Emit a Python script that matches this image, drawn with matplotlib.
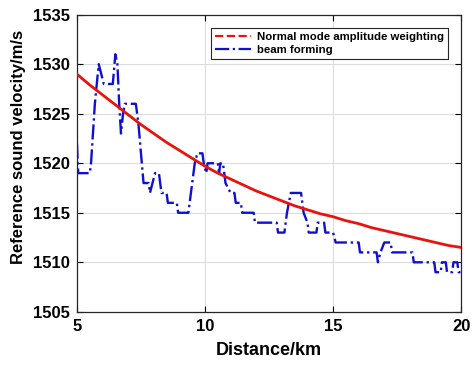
import matplotlib
matplotlib.use("Agg")
import matplotlib.pyplot as plt
from matplotlib.lines import Line2D

# -----------------------------------
# Data
# -----------------------------------
model_km = [5, 5.5, 6, 6.5, 7, 7.5, 8, 8.5, 9, 9.5, 10, 10.5, 11, 11.5, 12,
            12.5, 13, 13.5, 14, 14.5, 15, 15.5, 16, 16.5, 17, 17.5, 18, 18.5,
            19, 19.5, 20]
model_vel = [1529.0, 1527.9, 1526.9, 1525.9, 1524.9, 1523.9, 1523.0, 1522.1,
             1521.3, 1520.5, 1519.7, 1519.0, 1518.4, 1517.8, 1517.2, 1516.7,
             1516.2, 1515.7, 1515.3, 1514.9, 1514.6, 1514.2, 1513.9, 1513.5,
             1513.2, 1512.9, 1512.6, 1512.3, 1512.0, 1511.7, 1511.5]

beam_km = [5.0, 5.05, 5.5, 5.55, 5.7, 5.85, 5.95, 6.05, 6.4, 6.5, 6.58, 6.65,
           6.72, 6.8, 6.87, 7.3, 7.4, 7.5, 7.6, 7.8, 7.85, 7.95, 8.05, 8.2,
           8.3, 8.5, 8.55, 8.9, 8.95, 9.35, 9.45, 9.6, 9.7, 9.9, 9.95, 10.05,
           10.1, 10.5, 10.55, 10.6, 10.7, 10.8, 11.0, 11.15, 11.2, 11.4, 11.45,
           11.9, 11.95, 12.8, 12.85, 13.1, 13.2, 13.35, 13.75, 13.85, 14.0,
           14.05, 14.35, 14.4, 14.65, 14.7, 15.0, 15.1, 16.0, 16.05, 16.7,
           16.75, 16.85, 17.0, 17.25, 17.3, 18.1, 18.15, 18.95, 19.0, 19.2,
           19.25, 19.4, 19.45, 19.65, 19.7, 19.85, 19.9, 20.0]
beam_vel = [1522, 1519, 1519, 1520, 1526, 1530, 1529, 1528, 1528, 1531, 1530,
            1526, 1523, 1525, 1526, 1526, 1524, 1521, 1518, 1518, 1517, 1518,
            1519, 1519, 1517, 1517, 1516, 1516, 1515, 1515, 1517, 1520, 1521,
            1521, 1520, 1519, 1520, 1520, 1519, 1520, 1520, 1518, 1517, 1517,
            1516, 1516, 1515, 1515, 1514, 1514, 1513, 1513, 1515, 1517, 1517,
            1515, 1514, 1513, 1513, 1514, 1514, 1513, 1513, 1512, 1512, 1511,
            1511, 1510, 1511, 1512, 1512, 1511, 1511, 1510, 1510, 1509, 1509,
            1510, 1510, 1509, 1509, 1510, 1510, 1509, 1509]

x_ticks = [5, 10, 15, 20]
y_ticks = [1505, 1510, 1515, 1520, 1525, 1530, 1535]

plt.rcParams["font.family"] = ["Liberation Sans", "DejaVu Sans"]
plt.rcParams["font.weight"] = "bold"

# -----------------------------------
# Plot
# -----------------------------------
fig = plt.figure(figsize=(4.72, 3.66), dpi=100)
ax = fig.add_axes([0.163, 0.148, 0.814, 0.812])

ax.plot(model_km, model_vel, color="#e8140c", linewidth=2.0, zorder=3)
ax.plot(beam_km, beam_vel, color="#1010d0", linestyle="-.", linewidth=1.7,
        zorder=2)

ax.set_xlim(5, 20)
ax.set_ylim(1505, 1535)
ax.set_xticks(x_ticks)
ax.set_yticks(y_ticks)
ax.tick_params(direction="in", labelsize=12, top=True, right=True,
               length=4, width=0.8, pad=5)
for lab in ax.get_xticklabels() + ax.get_yticklabels():
    lab.set_fontweight("bold")
ax.grid(True, color="#dcdcdc", linewidth=0.8)
ax.set_axisbelow(True)
for s in ax.spines.values():
    s.set_color("#262626")
    s.set_linewidth(0.9)

ax.set_xlabel("Distance/km", fontsize=13, fontweight="bold", labelpad=6)
ax.set_ylabel("Reference sound velocity/m/s", fontsize=12, fontweight="bold")
ax.yaxis.set_label_coords(-0.132, 0.555)

handles = [Line2D([], [], color="#e8140c", linestyle="--", linewidth=1.6),
           Line2D([], [], color="#1010d0", linestyle="-.", linewidth=1.6)]
leg = ax.legend(handles, ["Normal mode amplitude weighting", "beam forming"],
                loc="upper right", bbox_to_anchor=(0.98, 0.975),
                prop={"size": 8.2, "weight": "bold"}, handlelength=3.2,
                fancybox=False, framealpha=1, borderpad=0.35,
                labelspacing=0.3, handletextpad=0.5)
leg.get_frame().set_edgecolor("#262626")
leg.get_frame().set_linewidth(0.8)

fig.savefig("out.png", dpi=100)
